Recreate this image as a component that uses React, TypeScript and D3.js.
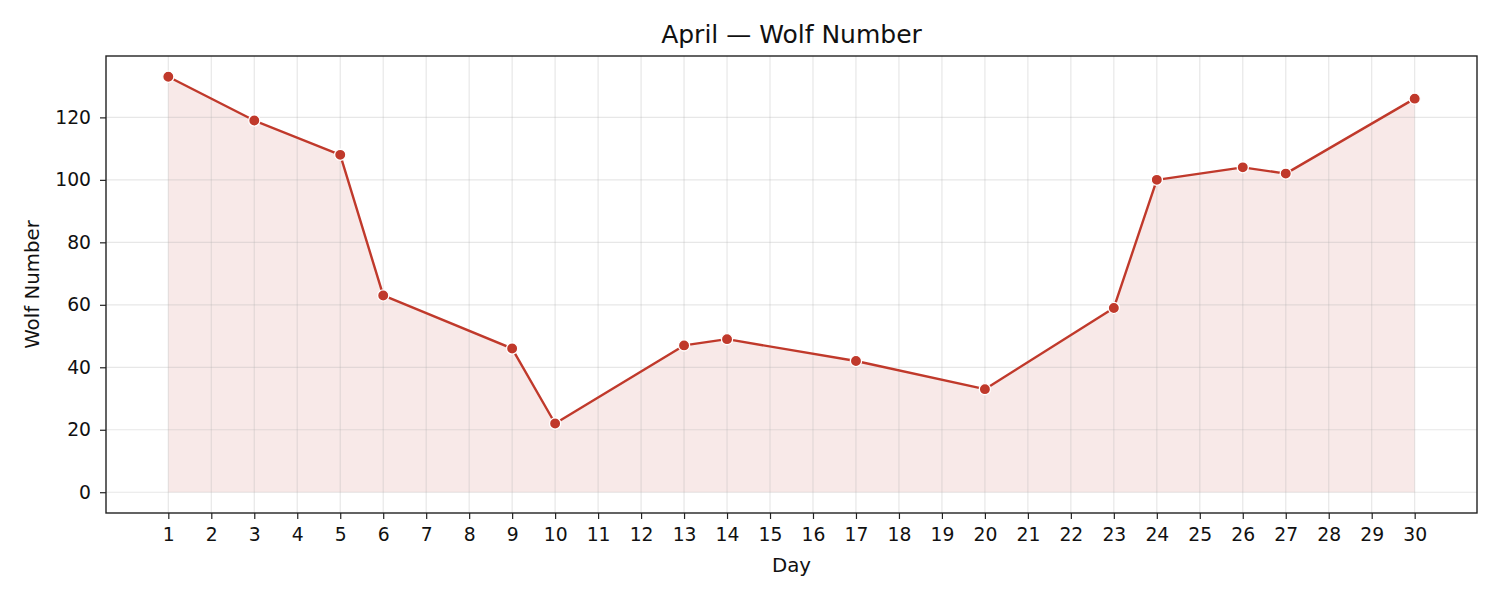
import * as d3 from "d3";
import { useEffect, useRef } from "react";

const days = [1, 3, 5, 6, 9, 10, 13, 14, 17, 20, 23, 24, 26, 27, 30];
const wolf = [133, 119, 108, 63, 46, 22, 47, 49, 42, 33, 59, 100, 104, 102, 126];
const dayTicks = d3.range(1, 31);
const yTicks = [0, 20, 40, 60, 80, 100, 120];

const W = 1500;
const H = 600;
const margin = { top: 56, right: 23, bottom: 87, left: 106 };
const red = "#c0392b";
const font = "DejaVu Sans, sans-serif";

export default function App() {
  const svgRef = useRef<SVGSVGElement>(null);

  useEffect(() => {
    const svg = d3.select(svgRef.current);
    svg.selectAll("*").remove();
    const innerW = W - margin.left - margin.right;
    const innerH = H - margin.top - margin.bottom;

    const pts = days.map((d, i) => ({ day: d, v: wolf[i] }));

    // matplotlib-style 5% padding
    const xPad = (30 - 1) * 0.05;
    const x = d3.scaleLinear().domain([1 - xPad, 30 + xPad]).range([0, innerW]);
    const yMax = d3.max(wolf)!;
    const yPad = yMax * 0.05;
    const y = d3.scaleLinear().domain([-yPad, yMax + yPad]).range([innerH, 0]);

    const g = svg.append("g").attr("transform", `translate(${margin.left},${margin.top})`);

    // fill under line
    const area = d3.area<{ day: number; v: number }>()
      .x((d) => x(d.day))
      .y0(y(0))
      .y1((d) => y(d.v));
    g.append("path").datum(pts).attr("d", area).attr("fill", red).attr("fill-opacity", 0.11);

    // grid
    const grid = g.append("g").attr("stroke", "#b0b0b0").attr("stroke-opacity", 0.3).attr("stroke-width", 1.2);
    grid.selectAll("line.vx").data(dayTicks).enter().append("line")
      .attr("x1", (d) => x(d)).attr("x2", (d) => x(d)).attr("y1", 0).attr("y2", innerH);
    grid.selectAll("line.hy").data(yTicks).enter().append("line")
      .attr("y1", (d) => y(d)).attr("y2", (d) => y(d)).attr("x1", 0).attr("x2", innerW);

    // line
    const line = d3.line<{ day: number; v: number }>().x((d) => x(d.day)).y((d) => y(d.v));
    g.append("path").datum(pts).attr("d", line).attr("fill", "none")
      .attr("stroke", red).attr("stroke-width", 2.4).attr("stroke-linejoin", "round");

    // markers
    g.selectAll("circle.dot").data(pts).enter().append("circle")
      .attr("cx", (d) => x(d.day)).attr("cy", (d) => y(d.v)).attr("r", 5.6)
      .attr("fill", red).attr("stroke", "white").attr("stroke-width", 1.3);

    // axes
    const gx = g.append("g").attr("transform", `translate(0,${innerH})`)
      .call(d3.axisBottom(x).tickValues(dayTicks).tickSize(6).tickPadding(9).tickFormat(d3.format("d")));
    const gy = g.append("g")
      .call(d3.axisLeft(y).tickValues(yTicks).tickSize(6).tickPadding(9));
    [gx, gy].forEach((ax) => {
      ax.select(".domain").remove();
      ax.selectAll("line").attr("stroke", "#222").attr("stroke-width", 1.2);
      ax.selectAll("text").attr("fill", "#111").style("font-family", font).style("font-size", "18.75px");
    });

    // frame
    g.append("rect").attr("width", innerW).attr("height", innerH)
      .attr("fill", "none").attr("stroke", "#222").attr("stroke-width", 1.4);

    // labels
    svg.append("text").attr("x", margin.left + innerW / 2).attr("y", 43).attr("text-anchor", "middle")
      .style("font-family", font).style("font-size", "25px").attr("fill", "#111").text("April — Wolf Number");
    svg.append("text").attr("x", margin.left + innerW / 2).attr("y", 572).attr("text-anchor", "middle")
      .style("font-family", font).style("font-size", "19.8px").attr("fill", "#111").text("Day");
    svg.append("text").attr("transform", `translate(39,${margin.top + innerH / 2}) rotate(-90)`)
      .attr("text-anchor", "middle")
      .style("font-family", font).style("font-size", "19.8px").attr("fill", "#111").text("Wolf Number");
  }, []);

  return (
    <div style={{ position: "absolute", left: 0, top: 0 }}>
      <svg ref={svgRef} width={W} height={H} style={{ display: "block", background: "white" }} />
    </div>
  );
}
